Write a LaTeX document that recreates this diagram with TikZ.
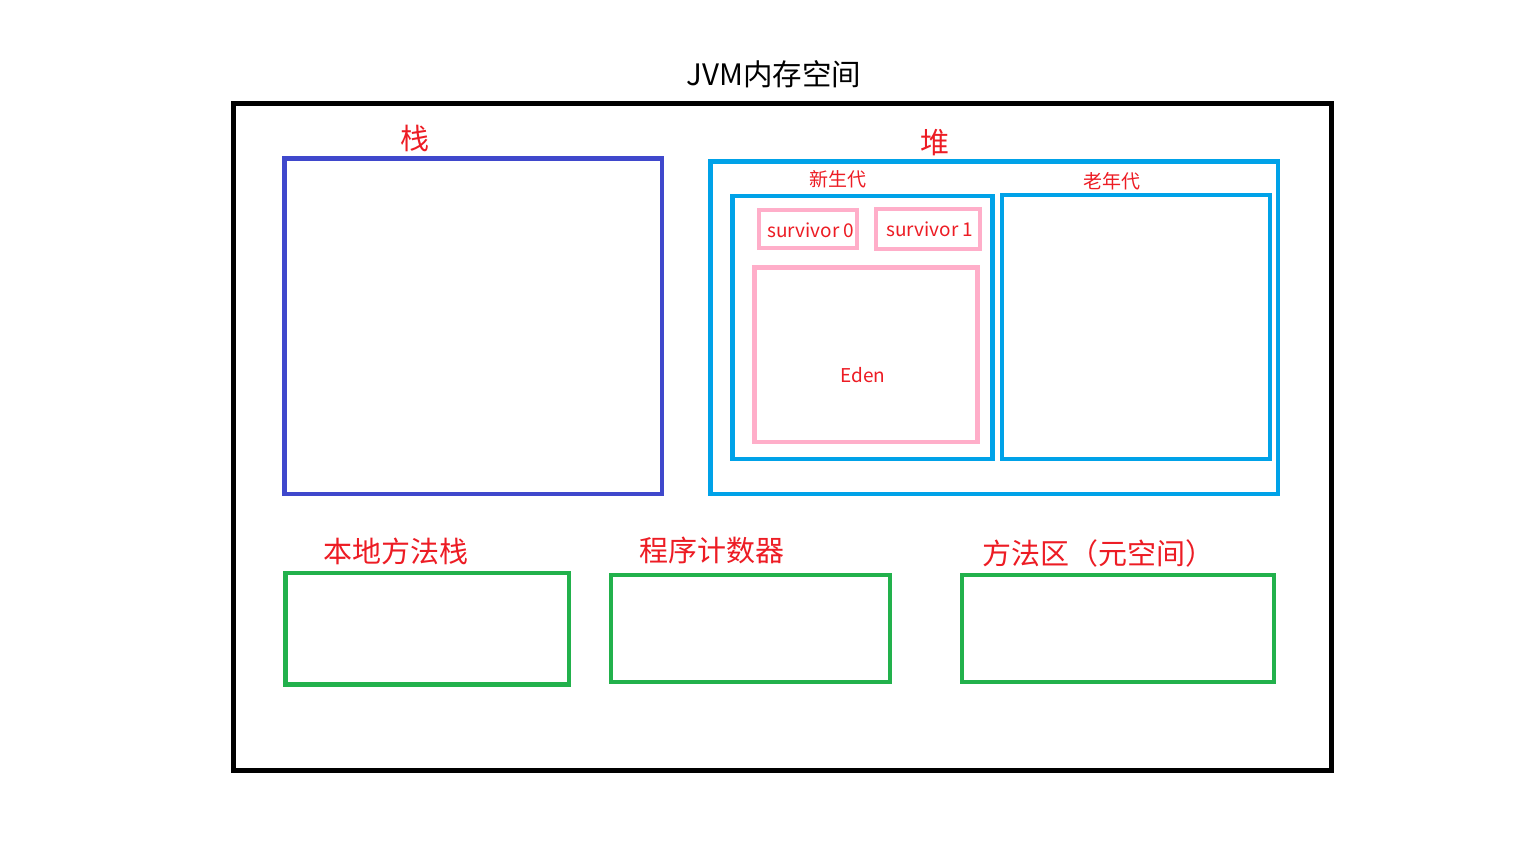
\documentclass[tikz,border=0pt]{standalone}
\usepackage{fontspec}
\setmainfont{Noto Sans CJK SC}
\definecolor{jblue}{HTML}{3F48CC}
\definecolor{jcyan}{HTML}{00A2E8}
\definecolor{jpink}{HTML}{FFAEC9}
\definecolor{jgreen}{HTML}{22B14C}
\definecolor{jred}{HTML}{ED1C24}
\tikzset{
  region/.style={draw=#1, line width=4.5pt, inner sep=0pt, outer sep=0pt, fill=none},
  biglabel/.style={text=jred, font=\fontsize{29pt}{32pt}\selectfont, inner sep=0pt},
  smalllabel/.style={text=jred, font=\fontsize{19pt}{22pt}\selectfont, inner sep=0pt},
  survlabel/.style={text=jred, font=\fontsize{19pt}{22pt}\selectfont, inner sep=0pt},
}
\begin{document}
\begin{tikzpicture}[x=1pt,y=-1pt]
\path[fill=white] (0,0) rectangle (1536,864);
\useasboundingbox (0,0) rectangle (1536,864);
% outer frame
\node[draw=black, line width=5pt, inner sep=0pt, minimum width=1098pt, minimum height=667pt] (jvm) at (782.5,437) {};
\node[inner sep=0pt, font=\fontsize{29.5pt}{32pt}\selectfont] (title) at (774,74) {JVM内存空间};
% stack
\node[region=jblue, minimum width=377.5pt, minimum height=335.7pt] (stack) at (473.25,326.2) {};
\node[biglabel] (stacklbl) at (415,138) {栈};
% heap
\node[region=jcyan, minimum width=567.5pt, minimum height=332.3pt] (heap) at (994.25,327.85) {};
\node[biglabel] (heaplbl) at (935,143) {堆};
\node[region=jcyan, minimum width=260pt, minimum height=263pt] (young) at (862.5,327.5) {};
\node[smalllabel] (younglbl) at (838,179) {新生代};
\node[region=jcyan, minimum width=268pt, minimum height=264pt] (old) at (1136,327) {};
\node[smalllabel] (oldlbl) at (1112,181) {老年代};
\node[region=jpink, minimum width=98pt, minimum height=38pt] (s0) at (808,229) {};
\node[survlabel] at (811,230) {survivor 0};
\node[region=jpink, minimum width=104pt, minimum height=40pt] (s1) at (928,229) {};
\node[survlabel] at (930,229) {survivor 1};
\node[region=jpink, minimum width=223pt, minimum height=174.5pt] (eden) at (866,354.75) {};
\node[survlabel] (edenlbl) at (863,375) {Eden};
% bottom row
\node[region=jgreen, minimum width=283.3pt, minimum height=111.3pt] (native) at (427.35,628.65) {};
\node[biglabel] (nativelbl) at (396,551) {本地方法栈};
\node[region=jgreen, minimum width=279pt, minimum height=107pt] (pc) at (750.5,628.5) {};
\node[biglabel] (pclbl) at (712,550) {程序计数器};
\node[region=jgreen, minimum width=312pt, minimum height=107pt] (method) at (1118,628.5) {};
\node[biglabel] (methodlbl) at (1098,553) {方法区（元空间）};
\end{tikzpicture}
\end{document}
